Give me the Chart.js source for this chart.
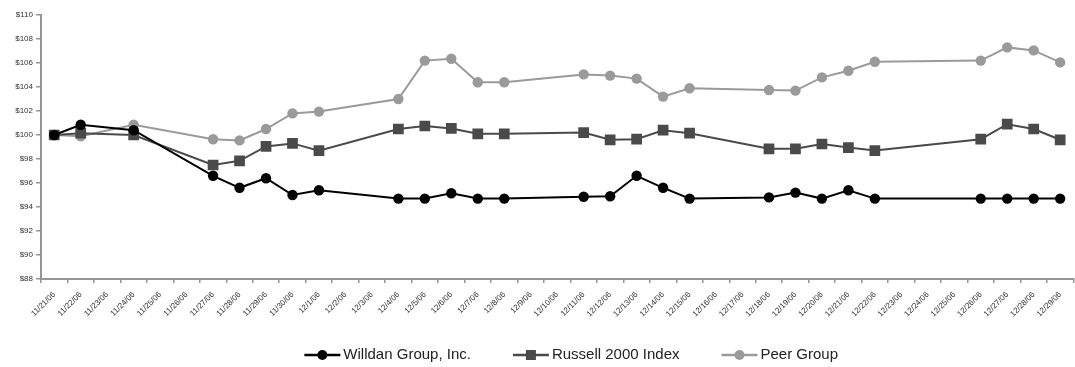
<!DOCTYPE html>
<html>
<head>
<meta charset="utf-8">
<script src="https://cdn.jsdelivr.net/npm/chart.js@4/dist/chart.umd.min.js"></script>
<style>
  html, body { margin: 0; padding: 0; background: #fff; overflow: hidden; }
  #wrap { width: 1075px; height: 367px; overflow: hidden; }
  canvas { display: block; }
</style>
</head>
<body>
<div id="wrap"><canvas id="chart" width="1081" height="367"></canvas></div>
<script>
// Calendar days on the category axis (non-trading days stay empty)
const dates = [
  '11/21/06','11/22/06','11/23/06','11/24/06','11/25/06','11/26/06','11/27/06','11/28/06',
  '11/29/06','11/30/06','12/1/06','12/2/06','12/3/06','12/4/06','12/5/06','12/6/06',
  '12/7/06','12/8/06','12/9/06','12/10/06','12/11/06','12/12/06','12/13/06','12/14/06',
  '12/15/06','12/16/06','12/17/06','12/18/06','12/19/06','12/20/06','12/21/06','12/22/06',
  '12/23/06','12/24/06','12/25/06','12/26/06','12/27/06','12/28/06','12/29/06'
];

// Value of $100 invested, by day
const willdan = [
  100, 100.85, null, 100.4, null, null, 96.6, 95.6, 96.4, 95.0, 95.4, null, null,
  94.7, 94.7, 95.15, 94.7, 94.7, null, null, 94.85, 94.9, 96.6, 95.6, 94.7, null, null,
  94.8, 95.2, 94.7, 95.4, 94.7, null, null, null, 94.7, 94.7, 94.7, 94.7
];
const russell2000 = [
  100, 100.15, null, 100.0, null, null, 97.5, 97.85, 99.05, 99.3, 98.7, null, null,
  100.5, 100.75, 100.55, 100.1, 100.1, null, null, 100.2, 99.6, 99.65, 100.4, 100.15, null, null,
  98.85, 98.85, 99.25, 98.95, 98.7, null, null, null, 99.65, 100.9, 100.5, 99.6
];
const peerGroup = [
  100, 99.9, null, 100.85, null, null, 99.65, 99.55, 100.5, 101.8, 101.95, null, null,
  103.0, 106.2, 106.35, 104.4, 104.4, null, null, 105.05, 104.95, 104.7, 103.2, 103.9, null, null,
  103.75, 103.7, 104.8, 105.35, 106.1, null, null, null, 106.2, 107.3, 107.05, 106.05
];

const seriesNames = ['Willdan Group, Inc.', 'Russell 2000 Index', 'Peer Group'];
const yMin = 88, yMax = 110, yStep = 2;

const AXIS = '#959595';

// Legend drawn as line + marker + label under the plot
const lineLegend = {
  id: 'lineLegend',
  afterDraw(chart) {
    const ctx = chart.ctx;
    const area = chart.chartArea;
    ctx.save();
    ctx.font = '15px "Liberation Sans", Arial, sans-serif';
    const iconW = 36, iconGap = 3, itemGap = 42;
    const items = chart.data.datasets.map(ds => ({ ds, w: ctx.measureText(ds.label).width }));
    const total = items.reduce((s, it) => s + iconW + iconGap + it.w, 0) + itemGap * (items.length - 1);
    let x = (area.left + area.right) / 2 - total / 2 + 14;
    const y = 355;
    items.forEach(({ ds, w }) => {
      ctx.strokeStyle = ds.borderColor;
      ctx.lineWidth = 2.5;
      ctx.beginPath();
      ctx.moveTo(x, y);
      ctx.lineTo(x + iconW, y);
      ctx.stroke();
      ctx.fillStyle = ds.pointBackgroundColor;
      const cx = x + iconW / 2;
      if (ds.pointStyle === 'rect') {
        ctx.fillRect(cx - 5, y - 5, 10, 10);
      } else {
        ctx.beginPath();
        ctx.arc(cx, y, 5, 0, Math.PI * 2);
        ctx.fill();
      }
      ctx.fillStyle = '#222';
      ctx.textBaseline = 'middle';
      ctx.textAlign = 'left';
      ctx.fillText(ds.label, x + iconW + iconGap, y);
      x += iconW + iconGap + w + itemGap;
    });
    ctx.restore();
  }
};

new Chart(document.getElementById('chart'), {
  type: 'line',
  data: {
    labels: dates,
    datasets: [
      {
        label: seriesNames[0], data: willdan,
        borderColor: '#000', backgroundColor: '#000',
        pointBackgroundColor: '#000', pointBorderColor: '#000',
        pointStyle: 'circle', pointRadius: 5.2, pointBorderWidth: 0,
        borderWidth: 2, spanGaps: true, tension: 0
      },
      {
        label: seriesNames[1], data: russell2000,
        borderColor: '#4a4a4a', backgroundColor: '#4a4a4a',
        pointBackgroundColor: '#4a4a4a', pointBorderColor: '#4a4a4a',
        pointStyle: 'rect', pointRadius: 7.6, pointBorderWidth: 0,
        borderWidth: 2, spanGaps: true, tension: 0
      },
      {
        label: seriesNames[2], data: peerGroup,
        borderColor: '#9a9a9a', backgroundColor: '#9a9a9a',
        pointBackgroundColor: '#9a9a9a', pointBorderColor: '#9a9a9a',
        pointStyle: 'circle', pointRadius: 5.2, pointBorderWidth: 0,
        borderWidth: 2, spanGaps: true, tension: 0
      }
    ]
  },
  options: {
    responsive: false,
    animation: false,
    layout: { padding: { top: 15, left: 0, right: 0, bottom: 40 } },
    plugins: {
      legend: { display: false },
      tooltip: { enabled: false }
    },
    scales: {
      x: {
        type: 'category',
        offset: true,
        grid: { display: true, offset: true, drawOnChartArea: false, tickLength: 4, color: AXIS, lineWidth: 1.5 },
        border: { display: true, color: AXIS, width: 2 },
        ticks: {
          autoSkip: false, maxRotation: 45, minRotation: 45, padding: 7,
          color: '#333', font: { family: '"Liberation Sans", Arial, sans-serif', size: 8 }
        },
        afterFit(scale) { scale.height = 48; }
      },
      y: {
        min: yMin, max: yMax,
        grid: { display: true, drawOnChartArea: false, tickLength: 5, color: AXIS, lineWidth: 1.5 },
        border: { display: true, color: AXIS, width: 2 },
        ticks: {
          stepSize: yStep, padding: 3,
          color: '#333', font: { family: '"Liberation Sans", Arial, sans-serif', size: 8 },
          callback: v => '$' + v
        },
        afterFit(scale) { scale.width = 41; }
      }
    }
  },
  plugins: [lineLegend]
});
</script>
</body>
</html>
